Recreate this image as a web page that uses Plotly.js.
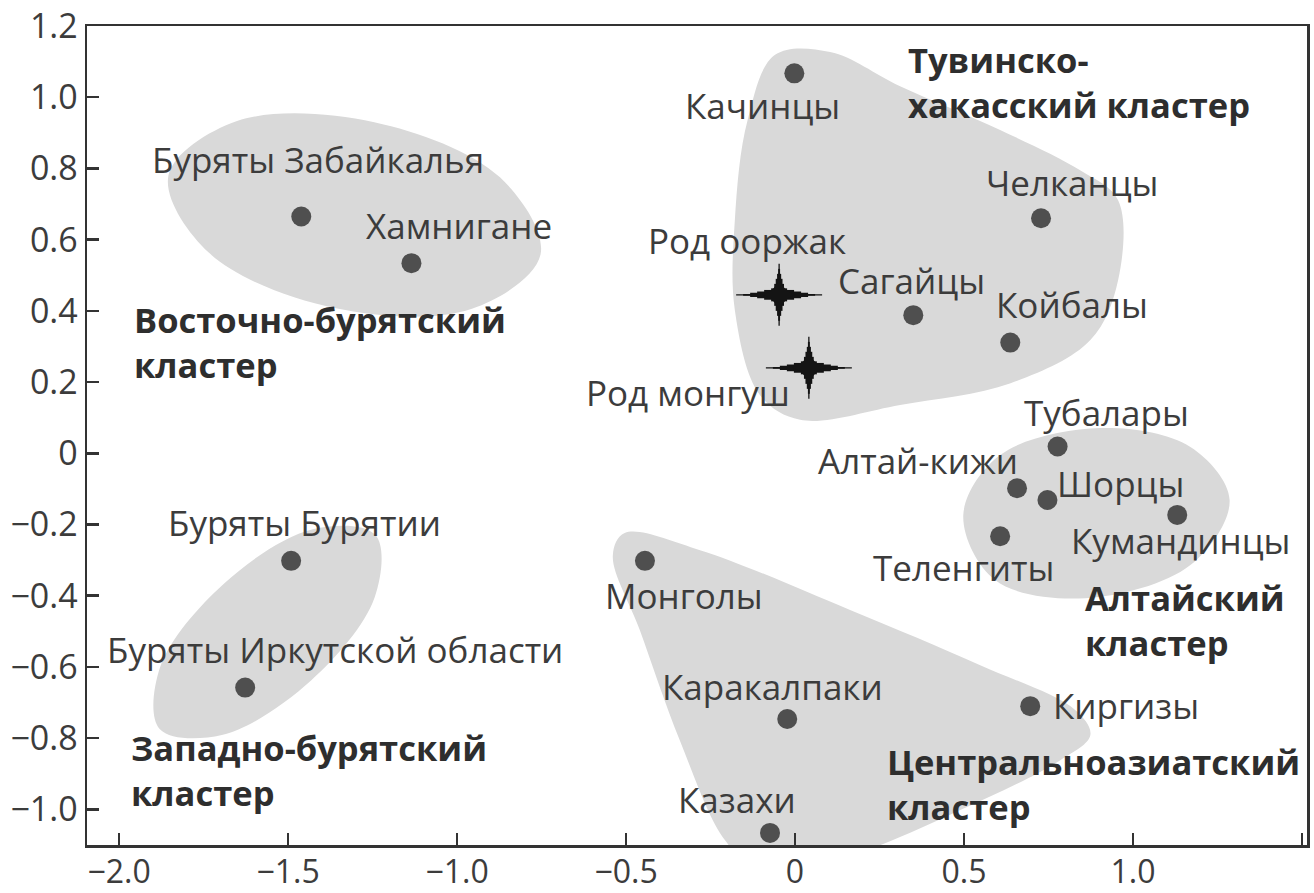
<!DOCTYPE html>
<html><head><meta charset="utf-8">
<script src="https://cdn.plot.ly/plotly-3.0.1.min.js"></script>
<style>html,body{margin:0;padding:0;background:#fff}#chart{width:1314px;height:893px}</style>
</head><body><div id="chart"></div>
<script>
// ---- data ----
const populations = ['Буряты Забайкалья','Хамнигане','Качинцы','Челканцы','Сагайцы','Койбалы',
  'Тубалары','Алтай-кижи','Шорцы','Кумандинцы','Теленгиты',
  'Буряты Бурятии','Буряты Иркутской области',
  'Монголы','Каракалпаки','Киргизы','Казахи'];
const popX = [-1.461,-1.135,-0.002,0.728,0.350,0.637, 0.777,0.657,0.747,1.131,0.607, -1.491,-1.627, -0.444,-0.023,0.696,-0.074];
const popY = [0.665,0.534,1.067,0.660,0.388,0.311, 0.019,-0.098,-0.131,-0.173,-0.233, -0.302,-0.658, -0.302,-0.746,-0.710,-1.066];

const clanNames = ['Род ооржак','Род монгуш'];
const clanX = [-0.047, 0.041];
const clanY = [0.445, 0.240];

// cluster outlines
const eastBuryatX = [-0.753,-0.956,-1.362,-1.734,-1.854,-1.651,-1.245,-0.873];
const eastBuryatY = [0.558,0.406,0.408,0.563,0.780,0.933,0.930,0.775];
const westBuryatX = [-1.242,-1.244,-1.432,-1.696,-1.880,-1.878,-1.690,-1.427];
const westBuryatY = [-0.229,-0.405,-0.638,-0.791,-0.774,-0.599,-0.366,-0.213];
const altaiX = [1.286,1.170,0.859,0.592,0.498,0.607,0.903,1.170];
const altaiY = [-0.131,-0.314,-0.407,-0.356,-0.173,-0.005,0.071,0.018];
const tuvaX = [-0.059,0.104,0.311,0.607,0.845,0.956,0.956,0.874,0.638,0.311,0.015,-0.104,-0.178,-0.178,-0.140];
const tuvaY = [1.119,1.127,1.031,0.908,0.794,0.711,0.486,0.318,0.197,0.136,0.094,0.164,0.402,0.655,0.937];
const centralX = [-0.504,-0.281,0.163,0.548,0.829,0.874,0.785,0.489,0.163,-0.104,-0.207,-0.341,-0.459,-0.539];
const centralY = [-0.224,-0.272,-0.440,-0.595,-0.721,-0.791,-0.862,-1.002,-1.129,-1.171,-1.087,-0.806,-0.497,-0.286];

const clusterNames = ['Восточно-бурятский<br>кластер','Тувинско-<br>хакасский кластер','Алтайский<br>кластер',
  'Западно-бурятский<br>кластер','Центральноазиатский<br>кластер'];

const xTickVals = [-2,-1.5,-1,-0.5,0,0.5,1,1.5];
const xTickText = ['\u22122.0','\u22121.5','\u22121.0','\u22120.5','0','0.5','1.0','1.5'];
const yTickVals = [1.2,1,0.8,0.6,0.4,0.2,0,-0.2,-0.4,-0.6,-0.8,-1.0];
const yTickText = ['1.2','1.0','0.8','0.6','0.4','0.2','0','\u22120.2','\u22120.4','\u22120.6','\u22120.8','\u22121.0'];

// ---- layout helpers (pixel offsets of labels relative to their marks) ----
const labelOffsets = {
  'Буряты Забайкалья':[17,57], 'Хамнигане':[48,38], 'Качинцы':[-32,-32], 'Челканцы':[31,36],
  'Сагайцы':[-2,35], 'Койбалы':[62,38], 'Тубалары':[49,34], 'Алтай-кижи':[-99,28],
  'Шорцы':[73,16], 'Кумандинцы':[3,-26], 'Теленгиты':[-37,-31], 'Буряты Бурятии':[13,38],
  'Буряты Иркутской области':[90,38], 'Монголы':[39,-35], 'Каракалпаки':[-15,32],
  'Киргизы':[96,1], 'Казахи':[-33,33], 'Род ооржак':[-32,54], 'Род монгуш':[-121,-25]
};
const clusterLabelPos = [[-1.961,0.313],[0.329,1.043],[0.853,-0.469],[-1.970,-0.890],[0.267,-0.929]];

const FONT = '"Open Sans", "Noto Sans", sans-serif';
const LABEL_SIZE = 35;
const fill = '#d9d9d9';
function hull(xs, ys){
  return {x: xs.concat([xs[0]]), y: ys.concat([ys[0]]), mode:'lines', fill:'toself',
    fillcolor: fill, line:{color: fill, width:0, shape:'spline', smoothing:1}, hoverinfo:'skip', showlegend:false};
}
const traces = [
  hull(eastBuryatX, eastBuryatY), hull(westBuryatX, westBuryatY), hull(altaiX, altaiY),
  hull(tuvaX, tuvaY), hull(centralX, centralY),
  {x: popX, y: popY, mode:'markers', marker:{size:20, color:'#4f4f4f'}, showlegend:false, cliponaxis:false}
];
// tapered four-point stars built from layered strokes (symbol, marker size, stroke width)
const STAR = '#141414';
const starLayers = [
  ['line-ew',61.4,1.3],['line-ew',51.4,1.9],['line-ew',41.4,4.1],['line-ew',31.4,6.8],['line-ew',21.4,9.8],['line-ew',11.4,13],
  ['line-ns',44.3,1.3],['line-ns',37.1,1.9],['line-ns',30,4.1],['line-ns',22.9,6.8],['line-ns',15.7,9.8],['line-ns',8.6,13]
];
starLayers.forEach(l=>{
  traces.push({x: clanX, y: clanY, mode:'markers',
    marker:{symbol:l[0], size:l[1], line:{width:l[2], color:STAR}}, showlegend:false});
});
traces.push({x: clanX, y: clanY, mode:'markers', marker:{symbol:'star-diamond', size:24, color:STAR, line:{width:0}}, showlegend:false});

const annotations = [];
function addLabel(n, x, y){
  const o = labelOffsets[n];
  annotations.push({x: x, y: y, text: n, showarrow:false, xshift:o[0], yshift:o[1],
    font:{family:FONT, size:LABEL_SIZE, color:'#3c3c3c'}, xanchor:'center', yanchor:'middle'});
}
populations.forEach((n,i)=>addLabel(n, popX[i], popY[i]));
clanNames.forEach((n,i)=>addLabel(n, clanX[i], clanY[i]));
clusterNames.forEach((n,i)=>{
  annotations.push({x: clusterLabelPos[i][0], y: clusterLabelPos[i][1], text: '<b>'+n+'</b>', showarrow:false,
    font:{family:FONT, size:34.5, color:'#2e2e2e'}, xanchor:'left', yanchor:'middle', align:'left'});
});

const axisCommon = {showgrid:false, zeroline:false, showline:true, mirror:true, linecolor:'#333', linewidth:2.5,
  ticks:'inside', ticklen:12, tickwidth:2.5, tickcolor:'#333', tickmode:'array'};
const layout = {
  width:1314, height:893, paper_bgcolor:'#fff', plot_bgcolor:'#fff',
  margin:{l:87, r:7, t:26, b:48},
  xaxis: Object.assign({}, axisCommon, {range:[-2.095,1.515], tickvals:xTickVals, ticktext:xTickText,
    tickfont:{family:FONT, size:32, color:'#3c3c3c'}, ticklabelstandoff:-3}),
  yaxis: Object.assign({}, axisCommon, {range:[-1.1,1.2], tickvals:yTickVals, ticktext:yTickText,
    tickfont:{family:FONT, size:34, color:'#3c3c3c'}}),
  annotations: annotations, showlegend:false
};
Plotly.newPlot('chart', traces, layout, {displayModeBar:false, staticPlot:true});
</script></body></html>
